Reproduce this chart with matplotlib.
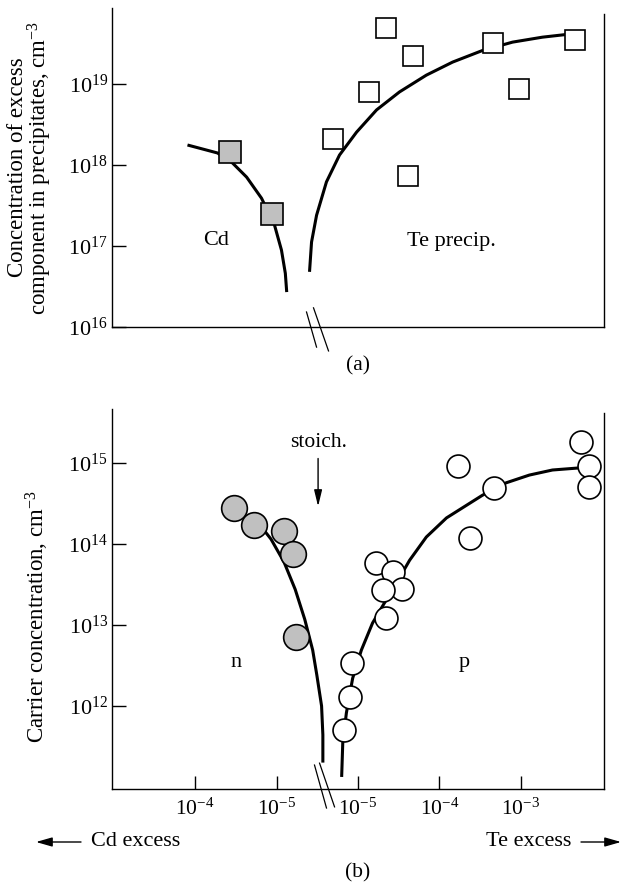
import numpy as np
import matplotlib
matplotlib.use("Agg")
import matplotlib.pyplot as plt
from matplotlib.patches import FancyArrowPatch

plt.rcParams['font.family'] = ['Liberation Serif', 'DejaVu Serif']
plt.rcParams['mathtext.fontset'] = 'custom'
plt.rcParams['mathtext.rm'] = 'Liberation Serif'
plt.rcParams['mathtext.it'] = 'Liberation Serif:italic'

# (a) concentration of excess component in precipitates, cm^-3
cd_line_a_x = [1.24e-4, 5.3e-5, 3.47e-5, 2.33e-5, 1.53e-5, 1.06e-5, 8.7e-6, 7.8e-6, 7.5e-6]
cd_line_a_y = [1.77e18, 1.41e18, 1.06e18, 7.1e17, 3.9e17, 1.82e17, 8.9e16, 4.6e16, 2.7e16]
cd_sq_x = [3.7e-5, 1.15e-5]
cd_sq_y = [1.45e18, 2.5e17]

te_line_a_x = [2.54e-6, 2.69e-6, 3.1e-6, 4.1e-6, 5.93e-6, 9.6e-6, 1.69e-5, 3.23e-5,
               6.9e-5, 1.45e-4, 3.37e-4, 7.9e-4, 1.84e-3, 3.6e-3, 6.0e-3]
te_line_a_y = [4.8e16, 1.12e17, 2.4e17, 6.2e17, 1.33e18, 2.55e18, 4.8e18, 8.0e18,
               1.29e19, 1.87e19, 2.6e19, 3.3e19, 3.8e19, 4.1e19, 4.3e19]
te_sq_x = [2.2e-5, 4.7e-5, 1.35e-5, 5.0e-6, 4.1e-5, 4.5e-4, 4.6e-3, 9.5e-4]
te_sq_y = [4.9e19, 2.2e19, 8.1e18, 2.1e18, 7.4e17, 3.2e19, 3.5e19, 8.7e18]

# (b) carrier concentration, cm^-3
cd_circ_x = [3.3e-5, 1.9e-5, 8.1e-6, 6.2e-6, 5.8e-6]
cd_circ_y = [2.8e14, 1.7e14, 1.45e14, 7.6e13, 7.2e12]
cd_line_b_x = [1.66e-5, 1.17e-5, 8.1e-6, 5.9e-6, 4.5e-6, 3.6e-6, 3.2e-6, 2.8e-6, 2.7e-6, 2.7e-6]
cd_line_b_y = [1.8e14, 1.15e14, 6.0e13, 2.75e13, 1.17e13, 4.9e12, 2.4e12, 1.0e12, 4.4e11, 2.0e11]

te_line_b_x = [6.3e-6, 6.5e-6, 7.2e-6, 8.6e-6, 1.1e-5, 1.51e-5, 2.11e-5, 2.97e-5, 4.3e-5,
               6.9e-5, 1.22e-4, 2.14e-4, 3.37e-4, 6.6e-4, 1.27e-3, 2.44e-3, 5.2e-3]
te_line_b_y = [1.33e11, 3.5e11, 8.2e11, 2.2e12, 4.9e12, 1.06e13, 1.87e13, 3.3e13, 6.3e13,
               1.22e14, 2.1e14, 3.0e14, 4.0e14, 5.7e14, 7.1e14, 8.2e14, 8.7e14]
te_circ_x = [5.5e-3, 6.8e-3, 6.8e-3, 1.7e-4, 4.7e-4, 2.4e-4, 1.66e-5, 2.7e-5, 3.5e-5,
             2.0e-5, 2.2e-5, 8.5e-6, 7.9e-6, 6.8e-6]
te_circ_y = [1.8e15, 9.3e14, 5.0e14, 9.3e14, 4.9e14, 1.2e14, 5.9e13, 4.5e13, 2.75e13,
             2.7e13, 1.23e13, 3.4e12, 1.3e12, 5.0e11]

tick_pos = [-2, -1, 0, 1, 2]
tick_labels = [r'$10^{-4}$', r'$10^{-5}$', r'$10^{-5}$', r'$10^{-4}$', r'$10^{-3}$']


def cd_pos(c):
    """Cd excess -> position on the split axis (decades, growing to the left)"""
    return -np.log10(np.asarray(c)) - 6


def te_pos(c):
    """Te excess -> position on the split axis"""
    return np.log10(np.asarray(c)) + 5


def style_axes(ax, ytop_spine):
    ax.set_xlim(-3.02, 3.02)
    ax.spines['top'].set_visible(False)
    for s in ('left', 'bottom', 'right'):
        ax.spines[s].set_linewidth(1.0)
    ax.spines['right'].set_bounds(ax.get_ylim()[0], ytop_spine)
    ax.minorticks_off()
    ax.tick_params(axis='y', direction='in', length=10, width=1.0, labelsize=16, pad=3)
    ax.tick_params(axis='x', direction='in', length=9.5, width=1.0, labelsize=15.5, pad=7)


def break_marks(ax, lines):
    tr = ax.get_xaxis_transform()
    for (x0, y0, x1, y1) in lines:
        ax.plot([x0, x1], [y0, y1], color='k', lw=0.9, transform=tr, clip_on=False)


W, H = 623, 886
fig = plt.figure(figsize=(W / 100, H / 100), dpi=100)

gray = '#c0c0c0'
line_kw = dict(color='k', lw=2.2, solid_capstyle='butt', zorder=2)

# ---- (a)
ax1 = fig.add_axes([112 / W, (H - 327) / H, 492 / W, 319 / H])
ax1.set_yscale('log')
ax1.set_ylim(1e16, 10 ** 19.94)
ax1.plot(cd_pos(cd_line_a_x), cd_line_a_y, **line_kw)
ax1.plot(te_pos(te_line_a_x), te_line_a_y, **line_kw)
ax1.plot(cd_pos(cd_sq_x), cd_sq_y, ls='none', marker='s', ms=15.5, mfc=gray,
         mec='k', mew=1.2, zorder=3)
ax1.plot(te_pos(te_sq_x), te_sq_y, ls='none', marker='s', ms=15, mfc='white',
         mec='k', mew=1.2, zorder=3)
style_axes(ax1, 10 ** 19.86)
ax1.set_xticks([])
ax1.set_yticks([1e16, 1e17, 1e18, 1e19],
               labels=[r'$10^{16}$', r'$10^{17}$', r'$10^{18}$', r'$10^{19}$'])
ax1.set_ylabel('Concentration of excess\ncomponent in precipitates, cm$^{-3}$',
               fontsize=16.5, linespacing=0.9)
ax1.yaxis.set_label_coords(-0.118, 0.5)
ax1.text(-1.74, 10 ** 17.07, 'Cd', fontsize=16, ha='center', va='center')
ax1.text(1.15, 10 ** 17.05, 'Te precip.', fontsize=16, ha='center', va='center')
break_marks(ax1, [(-0.632, 0.047, -0.509, -0.063), (-0.546, 0.060, -0.362, -0.075)])
fig.text(358 / W, (H - 366) / H, '(a)', fontsize=15.5, ha='center', va='center')

# ---- (b)
ax2 = fig.add_axes([112 / W, (H - 789) / H, 492 / W, 380 / H])
ax2.set_yscale('log')
ax2.set_ylim(10 ** 10.975, 10 ** 15.667)
ax2.plot(cd_pos(cd_line_b_x), cd_line_b_y, **line_kw)
ax2.plot(te_pos(te_line_b_x), te_line_b_y, **line_kw)
ax2.plot(cd_pos(cd_circ_x), cd_circ_y, ls='none', marker='o', ms=18.5, mfc=gray,
         mec='k', mew=1.2, zorder=3)
ax2.plot(te_pos(te_circ_x), te_circ_y, ls='none', marker='o', ms=16.5, mfc='white',
         mec='k', mew=1.2, zorder=3)
style_axes(ax2, 10 ** 15.62)
ax2.set_xticks(tick_pos, labels=tick_labels)
ax2.set_yticks([1e12, 1e13, 1e14, 1e15],
               labels=[r'$10^{12}$', r'$10^{13}$', r'$10^{14}$', r'$10^{15}$'])
ax2.set_ylabel('Carrier concentration, cm$^{-3}$', fontsize=16.5)
ax2.yaxis.set_label_coords(-0.124, 0.453)
ax2.text(-1.50, 10 ** 12.54, 'n', fontsize=16, ha='center', va='center')
ax2.text(1.30, 10 ** 12.54, 'p', fontsize=16, ha='center', va='center')
ax2.text(-0.48, 10 ** 15.25, 'stoich.', fontsize=15.5, ha='center', va='center')
ax2.annotate('', xy=(-0.49, 10 ** 14.43), xytext=(-0.49, 10 ** 15.09),
             arrowprops=dict(arrowstyle='-|>,head_width=0.17,head_length=0.7',
                             color='k', lw=1.0, mutation_scale=14))
break_marks(ax2, [(-0.534, 0.063, -0.387, -0.050), (-0.472, 0.068, -0.288, -0.047)])

# excess direction arrows
yb = (H - 842) / H
fig.text(91 / W, yb, 'Cd excess', fontsize=16, ha='left', va='center')
fig.text(571 / W, yb, 'Te excess', fontsize=16, ha='right', va='center')
arrow_kw = dict(arrowstyle='-|>,head_width=0.2,head_length=0.7', color='k', lw=1.0,
                mutation_scale=14, shrinkA=0, shrinkB=0)
fig.add_artist(FancyArrowPatch((81 / W, yb), (36 / W, yb),
                               transform=fig.transFigure, **arrow_kw))
fig.add_artist(FancyArrowPatch((581 / W, yb), (621 / W, yb),
                               transform=fig.transFigure, **arrow_kw))
fig.text(358 / W, (H - 873) / H, '(b)', fontsize=15.5, ha='center', va='center')

fig.savefig('out.png', dpi=100)
